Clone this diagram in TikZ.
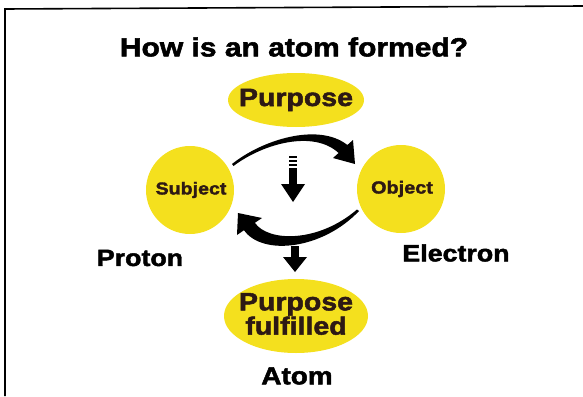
\documentclass[tikz,border=0pt]{standalone}
\usepackage{fontspec}
\newfontfamily\hv{Liberation Sans}[FakeStretch=1.14, BoldFeatures={FakeBold=2}]
\definecolor{ballyellow}{RGB}{244,224,30}
\definecolor{inktext}{RGB}{45,25,20}
\tikzset{
  ball/.style={fill=ballyellow, draw=none, inner sep=0pt},
  balltext/.style={text=inktext, font=\hv\bfseries\fontsize{#1}{#1}\selectfont, align=center},
  label/.style={text=black, font=\hv\bfseries\fontsize{#1}{#1}\selectfont, inner sep=0pt},
  ink/.style={fill=black, draw=none}
}
\begin{document}
\begin{tikzpicture}[x=1pt,y=-1pt]
\useasboundingbox (0,0) rectangle (583,396);
% frame
\draw[line width=1.6pt] (5,396) -- (5,9) -- (583,6);
% title
\node[label=26.3] (title) at (294,47) {How is an atom formed?};
% balls
\fill[ball] (296,100) ellipse [x radius=68, y radius=27];
\node[balltext=25] (purpose) at (296,100) {Purpose};
\fill[ball] (190,190) circle [radius=44];
\node[balltext=17.2] (subject) at (191,190) {Subject};
\fill[ball] (401,189) circle [radius=44];
\node[balltext=17.4] (object) at (402,189) {Object};
\fill[ball] (296,316) ellipse [x radius=72, y radius=37];
\node[balltext=25, execute at begin node={\baselineskip=23pt}] (fulfilled) at (296,314) {Purpose\\fulfilled};
% outer labels
\node[label=23.5] (proton) at (140,258) {Proton};
\node[label=23.5] (electron) at (456,253) {Electron};
\node[label=24.5] (atom) at (297,376) {Atom};
% upper curved arrow
\fill[ink] (232,164) .. controls (262,140) and (318,122) .. (347.4,145)
  -- (353,140) -- (355,164) -- (333,158) -- (338.6,153)
  .. controls (314,130) and (264,143) .. (233.5,166) -- cycle;
% lower curved arrow
\fill[ink] (359,211) .. controls (322,250) and (262,256) .. (244,230.2)
  -- (237,235) -- (238,213) -- (262,218) -- (254.9,222.8)
  .. controls (268,242) and (318,243) .. (357,209.5) -- cycle;
% central arrow (dashed tail)
\fill[ink] (289,156) rectangle (297,158);
\fill[ink] (289,160) rectangle (297,162);
\fill[ink] (289,164) rectangle (297,166);
\fill[ink] (289,168) rectangle (297,184.5);
\fill[ink] (281,184) -- (305,184) -- (293,202) -- cycle;
% lower straight arrow
\fill[ink] (291,246) rectangle (299,257.5);
\fill[ink] (283,257) -- (307,257) -- (295,272) -- cycle;
\end{tikzpicture}
\end{document}
